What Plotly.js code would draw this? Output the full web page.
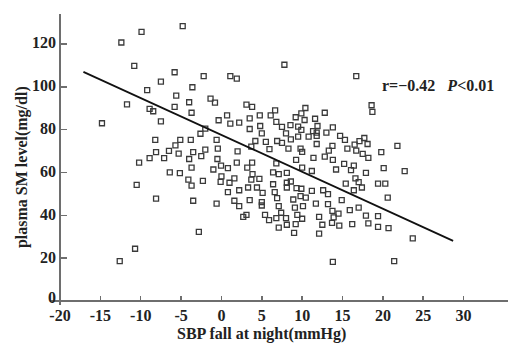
<!DOCTYPE html>
<html>
<head>
<meta charset="utf-8">
<script src="https://cdn.plot.ly/plotly-3.0.1.min.js"></script>
<style>html,body{margin:0;padding:0;background:#fff;}#chart{width:512px;height:343px;}</style>
</head>
<body>
<div id="chart"></div>
<script>
const sbpFall = [
  -14.8,-12.4,-9.9,-4.8,-10.8,-11.7,-10.2,-10.5,-10.7,-12.6,
  -5.8,-2.2,-7.5,-9.2,-3.6,-5.6,-1.35,-0.8,-4.0,-8.9,-8.45,-5.8,-3.7,-0.35,-7.5,-2.0,-2.6,-0.6,-8.2,-5.1,-3.8,-5.7,-2.0,-8.9,-8.1,-7.1,-6.5,-5.3,-4.0,-3.5,-2.5,-0.5,
  7.8,1.1,1.9,3.1,3.8,0.7,1.1,2.2,3.5,4.75,6.65,6.1,9.2,3.5,4.8,6.8,7.5,8.55,5.0,8.0,4.2,5.5,6.9,7.5,8.6,3.7,5.95,8.3,-0.45,2.0,1.9,3.8,9.25,6.8,
  16.7,18.6,18.7,10.4,9.9,12.8,10.3,11.6,9.5,9.9,11.35,11.9,11.8,13.8,13.0,9.5,10.8,11.8,14.7,15.3,17.7,17.1,16.5,18.1,9.8,10.0,11.8,13.75,13.3,15.6,16.7,17.5,18.2,11.4,12.8,13.8,15.2,
  19.8,21.8,
  -6.4,-5.15,-3.7,-4.1,-3.7,-2.3,-1.0,-8.1,-3.5,-0.6,-2.8,
  -0.05,0.8,3.2,0.0,-0.1,1.6,1.0,3.85,3.7,4.7,0.8,2.2,3.3,4.4,5.1,1.6,2.2,3.5,5.0,5.0,2.7,3.1,5.4,5.9,6.4,7.1,8.1,6.4,8.1,8.6,8.1,9.3,6.6,6.9,8.9,7.1,9.1,7.4,8.0,6.8,8.1,7.1,9.2,9.0,9.4,
  10.0,11.2,14.2,16.4,16.05,17.9,16.6,17.0,15.4,17.4,16.4,9.9,11.2,12.6,13.2,9.8,10.45,11.7,13.2,14.9,10.1,13.75,15.9,17.0,10.0,12.1,14.5,13.9,13.7,12.5,14.6,16.2,17.9,18.2,12.1,13.8,
  20.1,22.7,19.4,20.3,20.6,19.4,19.4,20.7,23.7,21.4
];
const plasmaSM = [
  83.0,120.7,125.7,128.3,109.8,91.8,64.6,54.2,24.4,18.6,
  106.8,105.0,102.4,98.5,99.8,95.9,94.5,92.6,92.8,89.7,88.6,90.6,87.9,84.4,83.9,80.5,78.1,75.2,75.2,75.2,75.2,72.7,70.7,66.7,69.5,66.7,70.1,68.8,66.3,69.5,67.6,66.3,
  110.3,105.0,103.8,91.7,90.6,86.7,82.8,83.3,85.3,86.7,89.0,86.7,85.8,80.3,81.7,83.6,81.3,82.1,78.3,78.3,74.7,74.3,74.7,73.8,75.5,72.1,70.9,71.1,71.1,69.9,64.6,64.6,65.9,64.3,
  105.0,91.4,88.3,90.1,87.6,87.9,84.5,85.1,81.4,79.9,79.3,81.7,78.6,81.1,78.6,76.7,76.7,77.1,77.1,75.2,76.1,74.6,73.0,73.3,71.1,69.6,73.3,72.4,70.2,71.1,70.2,68.7,66.8,66.8,67.4,65.9,64.0,
  69.5,72.4,
  60.1,59.7,62.3,56.7,53.9,56.1,61.4,47.8,46.8,45.5,32.3,
  63.2,62.0,62.3,58.2,55.6,57.3,55.2,59.2,56.7,57.0,50.8,51.7,53.0,53.0,50.5,46.8,44.3,47.1,46.2,44.6,39.3,40.2,40.2,37.8,60.1,59.2,59.8,54.5,55.2,55.8,53.0,52.7,50.8,48.0,47.4,44.3,43.6,41.2,38.7,38.7,35.6,34.3,35.9,31.8,40.2,
  62.3,60.7,61.4,63.2,61.1,59.8,57.3,55.5,54.8,53.0,51.7,52.4,51.4,51.7,49.9,49.0,48.3,45.5,45.2,47.1,44.3,42.1,42.4,43.6,38.4,39.3,40.8,39.0,36.5,35.6,35.2,35.9,39.9,36.2,31.5,18.3,
  62.0,60.6,54.8,54.8,48.3,39.6,34.6,34.0,29.2,18.6
];
const fitX = [-17.1, 28.7];
const fitY = [107.0, 28.1];
const xTicks = [-20,-15,-10,-5,0,5,10,15,20,25,30];
const yTicks = [0,20,40,60,80,100,120];
const statText = 'r=\u22120.42&nbsp;&nbsp;&nbsp;<i>P</i>&lt;0.01';
const xTitle = 'SBP fall at night(mmHg)';
const yTitle = 'plasma SM level(mg/dl)';

const fontFam = '"Liberation Serif", "Times New Roman", serif';
const axisCol = '#6e6e6e';
const labelFont = {family: fontFam, size: 16, color: '#222', weight: 'bold'};

const traces = [
  {
    x: sbpFall, y: plasmaSM, type: 'scatter', mode: 'markers',
    marker: {symbol: 'square-open', size: 5, color: '#3a3a3a', line: {width: 1.3, color: '#3a3a3a'}},
    hoverinfo: 'skip', showlegend: false
  },
  {
    x: fitX, y: fitY, type: 'scatter', mode: 'lines',
    line: {color: '#111', width: 1.8}, hoverinfo: 'skip', showlegend: false
  }
];

const yLabelAnnots = yTicks.map(v => ({
  text: String(v), xref: 'paper', yref: 'y', x: 0, y: v,
  xanchor: 'right', yanchor: 'middle', xshift: -2, yshift: v === 0 ? 4 : 1,
  showarrow: false, font: labelFont
}));

const layout = {
  width: 512, height: 343,
  margin: {l: 60, r: 4, t: 14, b: 42},
  paper_bgcolor: '#fff', plot_bgcolor: '#fff',
  font: {family: fontFam, color: '#222'},
  xaxis: {
    range: [-20, 35.5], tickvals: xTicks, ticktext: xTicks.map(String),
    ticks: 'inside', ticklen: 5, tickwidth: 1.5, tickcolor: axisCol,
    ticklabelstandoff: 3,
    showline: false, showgrid: false, zeroline: false,
    tickfont: labelFont
  },
  yaxis: {
    range: [0, 134], tickvals: yTicks, showticklabels: false,
    ticks: 'inside', ticklen: 7, tickwidth: 1.5, tickcolor: axisCol,
    showline: false, showgrid: false, zeroline: false
  },
  shapes: [
    {type: 'line', xref: 'paper', yref: 'paper', x0: -0.0223, x1: 1, y0: 0, y1: 0, line: {color: axisCol, width: 2}},
    {type: 'line', xref: 'paper', yref: 'paper', x0: 0, x1: 0, y0: -0.014, y1: 1, line: {color: axisCol, width: 2}}
  ],
  annotations: yLabelAnnots.concat([
    {text: statText, xref: 'paper', yref: 'paper', x: 0.7137, y: 0.7526, xanchor: 'left', yanchor: 'middle',
     showarrow: false, font: labelFont},
    {text: xTitle, xref: 'paper', yref: 'paper', x: 0.45, y: -0.114, xanchor: 'center', yanchor: 'middle',
     showarrow: false, font: labelFont},
    {text: yTitle, xref: 'paper', yref: 'paper', x: -0.0847, y: 0.467, xanchor: 'center', yanchor: 'middle', textangle: -90,
     showarrow: false, font: labelFont}
  ])
};

Plotly.newPlot('chart', traces, layout, {displayModeBar: false, staticPlot: true});
</script>
</body>
</html>
